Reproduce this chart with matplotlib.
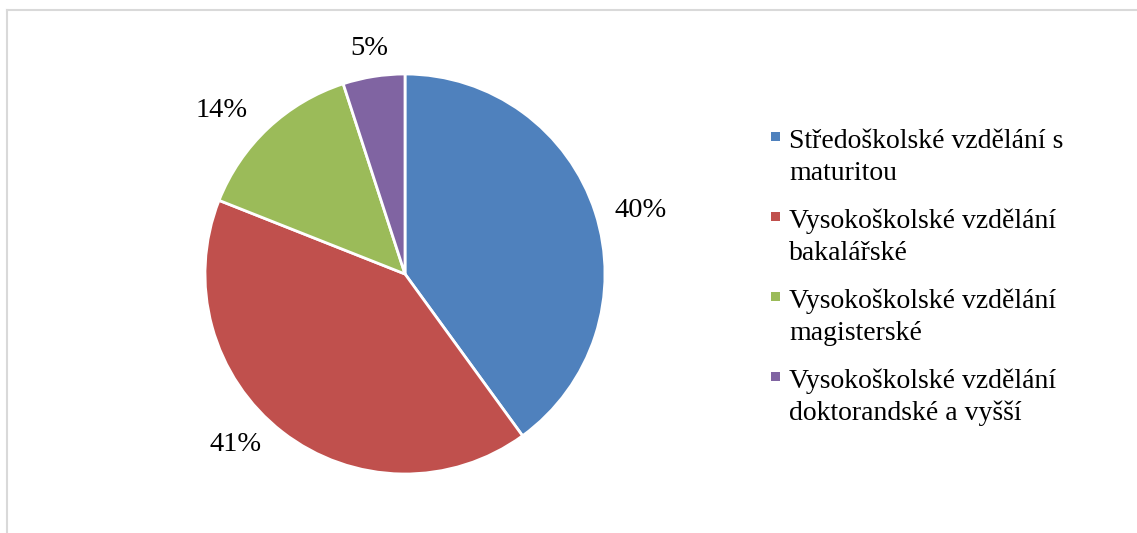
import numpy as np
import matplotlib.pyplot as plt
from matplotlib.lines import Line2D
from matplotlib.patches import Rectangle

# data
categories = [
    "Středoškolské vzdělání s\nmaturitou",
    "Vysokoškolské vzdělání\nbakalářské",
    "Vysokoškolské vzdělání\nmagisterské",
    "Vysokoškolské vzdělání\ndoktorandské a vyšší",
]
shares = [40, 41, 14, 5]
colors = ["#4F81BD", "#C0504D", "#9BBB59", "#8064A2"]

plt.rcParams['font.family'] = ['Liberation Serif', 'DejaVu Serif']

W, H = 1137, 533
fig = plt.figure(figsize=(W / 100, H / 100), dpi=100)

def fx(x):
    return x / W

def fy(y):
    return 1 - y / H

# outer frame (only top and left edges visible)
fig.add_artist(Line2D([fx(7), fx(W)], [fy(10), fy(10)], color="#d9d9d9", lw=1.5))
fig.add_artist(Line2D([fx(7), fx(7)], [fy(10), fy(H)], color="#d9d9d9", lw=1.5))

# pie axes: centre (405, 274), radius 200 px
cx, cy, r = 405, 274, 200
ax = fig.add_axes([fx(cx - r), fy(cy + r), 2 * r / W, 2 * r / H])
wedges, _ = ax.pie(shares, colors=colors, startangle=90, counterclock=False,
                   radius=1, wedgeprops=dict(edgecolor="white", linewidth=2))
ax.set_xlim(-1, 1)
ax.set_ylim(-1, 1)
ax.set_aspect("equal")
ax.axis("off")

# percentage labels placed outside each wedge
label_r = [1.22, 1.20, 1.23, 1.14]
label_dang = [-3, -7, 5, 0]
for w, s, lr, da in zip(wedges, shares, label_r, label_dang):
    ang = np.deg2rad((w.theta1 + w.theta2) / 2 + da)
    ax.text(lr * np.cos(ang), lr * np.sin(ang), f"{s}%", ha="center", va="center",
            fontsize=20.5, clip_on=False)

# legend, drawn manually so the marker aligns with the first line
for i, (lab, c) in enumerate(zip(categories, colors)):
    base = 148 + 80 * i
    fig.add_artist(Rectangle((fx(771), fy(base - 7)), 9 / W, 9 / H,
                             facecolor=c, edgecolor="none"))
    for j, line in enumerate(lab.split("\n")):
        fig.text(fx(789), fy(base + 32 * j), line, fontsize=20, va="baseline", ha="left")

fig.savefig("out.png", dpi=100)
